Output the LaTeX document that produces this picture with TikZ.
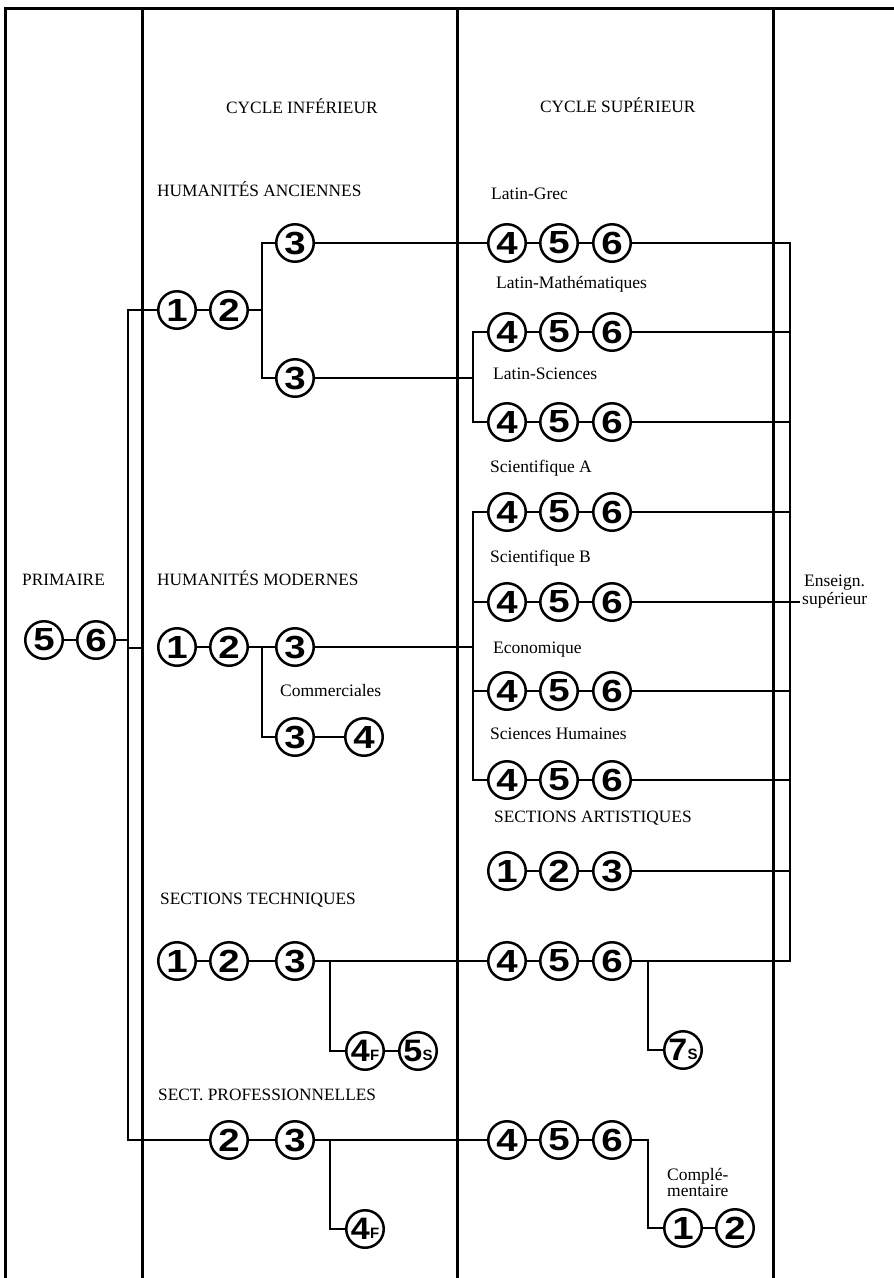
\documentclass[tikz,border=0pt]{standalone}
\usepackage{fontspec}
\setmainfont{Liberation Serif}
\newfontfamily\digfont{Liberation Sans}
\newcommand\dg[1]{{\digfont\bfseries\fontsize{32}{32}\selectfont\scalebox{1.2}[1]{#1}}}
\newcommand\dgl[2]{{\digfont\bfseries\fontsize{31}{31}\selectfont\makebox[26pt][c]{\scalebox{1.1}[1]{#1}\kern0.3pt\raisebox{1.5pt}{\fontsize{15}{15}\selectfont #2}}}}
\tikzset{
  cn/.style={circle, draw, line width=2.5pt, minimum size=37.5pt, inner sep=0pt},
  conn/.style={line width=1.4pt},
  col/.style={line width=3pt},
  capl/.style={anchor=base west, inner sep=0pt, font=\fontsize{17.3}{20}\selectfont},
  lowl/.style={anchor=base west, inner sep=0pt, font=\fontsize{17.5}{20}\selectfont},
}
\begin{document}
\begin{tikzpicture}[x=1pt,y=-1pt]
\useasboundingbox (0,0) rectangle (894,1278);
% frame and column lines
\draw[col] (5,1278) -- (5,8) -- (894,8);
\draw[col] (142,8) -- (142,1278);
\draw[col] (457,8) -- (457,1278);
\draw[col] (773,8) -- (773,1278);

% labels
\node[capl] (tci) at (226,113.5) {CYCLE INFÉRIEUR};
\node[capl] (tcs) at (540,112.5) {CYCLE SUPÉRIEUR};
\node[capl] (tha) at (157,196.5) {HUMANITÉS ANCIENNES};
\node[lowl] (tlg) at (491,199) {Latin-Grec};
\node[lowl] (tlm) at (496,288) {Latin-Mathématiques};
\node[lowl] (tls) at (493,379) {Latin-Sciences};
\node[lowl] (tsa) at (490,472) {Scientifique A};
\node[lowl] (tsb) at (490,562) {Scientifique B};
\node[lowl] (tec) at (493,653) {Economique};
\node[lowl] (tsh) at (490,739) {Sciences Humaines};
\node[capl] (tar) at (494,822) {SECTIONS ARTISTIQUES};
\node[lowl] (ten1) at (804,586) {Enseign.};
\node[lowl] (ten2) at (802,604) {supérieur};
\node[capl] (tpr) at (22,585) {PRIMAIRE};
\node[capl] (thm) at (157,585) {HUMANITÉS MODERNES};
\node[lowl] (tcom) at (280,696) {Commerciales};
\node[capl] (tst) at (160,904) {SECTIONS TECHNIQUES};
\node[capl] (tsp) at (158,1100) {SECT. PROFESSIONNELLES};
\node[lowl] (tcp1) at (667,1180) {Complé-};
\node[lowl] (tcp2) at (667,1196) {mentaire};

% circles
\node[cn] (p5) at (44,640) {\dg{5}};
\node[cn] (p6) at (96,640) {\dg{6}};

\node[cn] (ha1) at (177,310) {\dg{1}};
\node[cn] (ha2) at (229,310) {\dg{2}};
\node[cn] (ha3a) at (295,243) {\dg{3}};
\node[cn] (ha3b) at (295,378) {\dg{3}};

\node[cn] (hm1) at (177,647) {\dg{1}};
\node[cn] (hm2) at (229,647) {\dg{2}};
\node[cn] (hm3) at (295,647) {\dg{3}};
\node[cn] (hc3) at (295,737) {\dg{3}};
\node[cn] (hc4) at (364,737) {\dg{4}};

\node[cn] (st1) at (177,961) {\dg{1}};
\node[cn] (st2) at (229,961) {\dg{2}};
\node[cn] (st3) at (295,961) {\dg{3}};
\node[cn] (st4) at (365,1051) {\dgl{4}{F}};
\node[cn] (st5) at (418,1051) {\dgl{5}{S}};

\node[cn] (sp2) at (229,1140) {\dg{2}};
\node[cn] (sp3) at (295,1140) {\dg{3}};
\node[cn] (sp4) at (365,1229) {\dgl{4}{F}};

\foreach \r/\y in {lg/243, lm/332, ls/422, sa/512, sb/602, ec/691, sh/780, ts/961, ps/1140} {
  \node[cn] (\r4) at (507,\y) {\dg{4}};
  \node[cn] (\r5) at (559,\y) {\dg{5}};
  \node[cn] (\r6) at (612,\y) {\dg{6}};
  \draw[conn] (\r4) -- (\r5) (\r5) -- (\r6);
}
\node[cn] (ar1) at (507,871) {\dg{1}};
\node[cn] (ar2) at (559,871) {\dg{2}};
\node[cn] (ar3) at (612,871) {\dg{3}};
\node[cn] (s7) at (683,1050) {\dgl{7}{S}};
\node[cn] (c1) at (683,1228) {\dg{1}};
\node[cn] (c2) at (735,1228) {\dg{2}};

% junction coordinates
\coordinate (jPt) at (128,310);
\coordinate (jP) at (128,640);
\coordinate (jPb) at (128,1140);
\coordinate (stA) at (128,648);
\coordinate (stB) at (142,648);
\coordinate (bHA) at (262,310);
\coordinate (bHM) at (262,647);
\coordinate (bST) at (330,961);
\coordinate (bSP) at (330,1140);
\coordinate (bL1) at (473,378);
\coordinate (bL2) at (473,647);
\coordinate (r1) at (790,243);
\coordinate (r2) at (790,961);
\coordinate (es) at (800,602);
\coordinate (bTS) at (648,961);
\coordinate (bPS) at (648,1140);

% connectors
\draw[conn] (p5) -- (p6);
\draw[conn] (p6) -- (jP);
\draw[conn] (ha1) -- (jPt) -- (jPb) -- (sp2);
\draw[conn] (stA) -- (stB);

\draw[conn] (ha1) -- (ha2);
\draw[conn] (ha2) -- (bHA);
\draw[conn] (ha3a) -| (bHA) |- (ha3b);
\draw[conn] (ha3a) -- (lg4);
\draw[conn] (ha3b) -- (bL1);
\draw[conn] (lm4) -| (bL1) |- (ls4);

\draw[conn] (hm1) -- (hm2);
\draw[conn] (hm2) -- (hm3);
\draw[conn] (bHM) |- (hc3);
\draw[conn] (hc3) -- (hc4);
\draw[conn] (hm3) -- (bL2);
\draw[conn] (sa4) -| (bL2) |- (sh4);
\draw[conn] (sb4) -- (sb4 -| bL2);
\draw[conn] (ec4) -- (ec4 -| bL2);

\draw[conn] (lg6) -- (r1) -- (r2) -- (ts6);
\draw[conn] (lm6) -- (lm6 -| r1);
\draw[conn] (ls6) -- (ls6 -| r1);
\draw[conn] (sa6) -- (sa6 -| r1);
\draw[conn] (sb6) -- (es);
\draw[conn] (ec6) -- (ec6 -| r1);
\draw[conn] (sh6) -- (sh6 -| r1);
\draw[conn] (ar1) -- (ar2);
\draw[conn] (ar2) -- (ar3);
\draw[conn] (ar3) -- (ar3 -| r1);

\draw[conn] (st1) -- (st2);
\draw[conn] (st2) -- (st3);
\draw[conn] (st3) -- (ts4);
\draw[conn] (bST) |- (st4);
\draw[conn] (st4) -- (st5);
\draw[conn] (bTS) |- (s7);

\draw[conn] (sp2) -- (sp3);
\draw[conn] (sp3) -- (ps4);
\draw[conn] (bSP) |- (sp4);
\draw[conn] (ps6) -- (bPS) |- (c1);
\draw[conn] (c1) -- (c2);
\end{tikzpicture}
\end{document}
